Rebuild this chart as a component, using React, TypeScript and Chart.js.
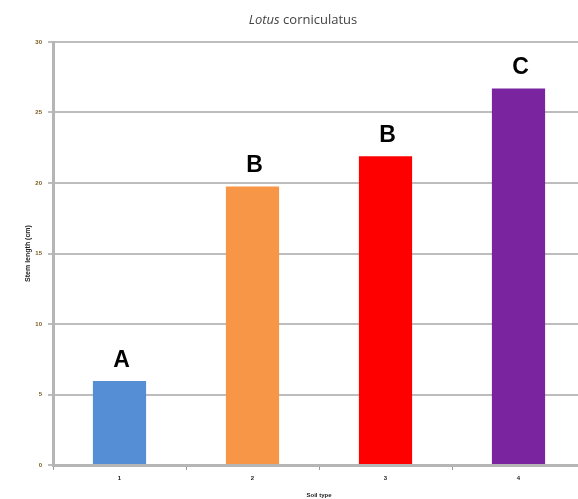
import React, { useEffect, useRef } from "react";
import { Chart, registerables } from "chart.js";

Chart.register(...registerables);

const categories = ["1", "2", "3", "4"];
const values = [5.95, 19.75, 21.9, 26.7];
const letters = ["A", "B", "B", "C"];
const barColors = ["#558ed5", "#f79646", "#ff0000", "#7a24a0"];
const titleParts = ["Lotus", "corniculatus"];
const xTitle = "Soil type";
const yTitle = "Stem length (cm)";

const labelPlugin = {
  id: "lettersAndTitle",
  afterDatasetsDraw(chart: any) {
    const ctx = chart.ctx;
    const meta = chart.getDatasetMeta(0);
    ctx.save();
    ctx.fillStyle = "#000";
    ctx.font = "bold 23px Arial, 'Liberation Sans', sans-serif";
    ctx.textAlign = "center";
    ctx.textBaseline = "bottom";
    meta.data.forEach((bar: any, i: number) => {
      ctx.fillText(letters[i], bar.x + 2, bar.y - 9);
    });
    // title
    ctx.fillStyle = "#444";
    ctx.textBaseline = "middle";
    ctx.textAlign = "left";
    const f1 = "italic 13px 'Open Sans', 'DejaVu Sans', sans-serif";
    const f2 = "13px 'Open Sans', 'DejaVu Sans', sans-serif";
    ctx.font = f1;
    const w1 = ctx.measureText(titleParts[0] + " ").width;
    ctx.font = f2;
    const w2 = ctx.measureText(titleParts[1]).width;
    const cx = 303;
    const x = cx - (w1 + w2) / 2;
    ctx.font = f1;
    ctx.fillText(titleParts[0] + " ", x, 20);
    ctx.font = f2;
    ctx.fillText(titleParts[1], x + w1, 20);
    ctx.restore();
  },
};

export default function App() {
  const ref = useRef<HTMLCanvasElement>(null);
  useEffect(() => {
    document.body.style.overflow = "hidden";
    const chart = new Chart(ref.current!, {
      type: "bar",
      data: {
        labels: categories,
        datasets: [
          {
            data: values,
            backgroundColor: barColors,
            barPercentage: 0.4,
            categoryPercentage: 1,
          },
        ],
      },
      options: {
        animation: false,
        responsive: false,
        maintainAspectRatio: false,
        layout: { padding: { left: 0, right: 5, top: 42, bottom: 0 } },
        plugins: { legend: { display: false }, tooltip: { enabled: false } },
        scales: {
          x: {
            grid: {
              offset: true,
              drawOnChartArea: false,
              drawTicks: true,
              tickLength: 5,
              color: "#9a9a9a",
              lineWidth: 1,
            },
            border: { color: "#b5b5b5", width: 3 },
            ticks: {
              color: "#222",
              font: { size: 6, weight: "bold" },
              padding: 5,
            },
            title: {
              display: true,
              text: xTitle,
              color: "#222",
              font: { size: 6, weight: "bold" },
              padding: { top: 7, bottom: 0 },
            },
            afterFit(scale: any) {
              scale.height = 34;
            },
          },
          y: {
            min: 0,
            max: 30,
            ticks: {
              stepSize: 5,
              color: "#7a5a20",
              font: { size: 6, weight: "bold" },
              padding: 6,
            },
            grid: {
              color: "#bdbdbd",
              lineWidth: 2,
              tickLength: 5,
            },
            border: { color: "#b5b5b5", width: 3 },
            title: {
              display: true,
              text: yTitle,
              color: "#222",
              font: { size: 7, weight: "bold" },
              padding: { top: 24, bottom: 6 },
            },
            afterFit(scale: any) {
              scale.width = 53;
            },
          },
        },
      },
      plugins: [labelPlugin],
    });
    return () => chart.destroy();
  }, []);
  return (
    <div style={{ position: "absolute", left: 0, top: 0 }}>
      <canvas ref={ref} width={590} height={499} style={{ width: 590, height: 499, display: "block" }} />
    </div>
  );
}
